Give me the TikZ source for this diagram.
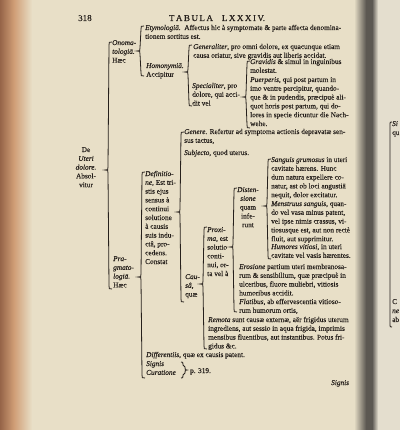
\documentclass[tikz,border=0pt]{standalone}
\usepackage{fontspec}
\setmainfont{Liberation Serif}[FakeBold=0.3]
\usetikzlibrary{calc}

\definecolor{paper}{RGB}{232,223,199}
\definecolor{nextpage}{RGB}{228,222,206}
\definecolor{ink}{RGB}{38,32,28}
\definecolor{edgedark}{RGB}{150,100,72}
\definecolor{edge}{RGB}{208,158,118}
\definecolor{gutter}{RGB}{92,88,82}

% curly bracket: top, tip, bottom (optional hook length, negative = closing)
\newcommand{\tabbrace}[4][3]{%
  \draw[brk] ($(#2)+(#1,0)$) .. controls (#2) .. ($(#2)+(0,3)$)
    -- ($(#3)+(#1,-3)$) .. controls ($(#3)+(#1,0)$) .. (#3)
    .. controls ($(#3)+(#1,0)$) .. ($(#3)+(#1,3)$)
    -- ($(#4)+(0,-3)$) .. controls (#4) .. ($(#4)+(#1,0)$);}

\begin{document}
\begin{tikzpicture}[x=1pt,y=-1pt,
    txt/.style={anchor=base west,inner sep=0pt,align=left,text=ink,
      font=\fontsize{7.3}{8.8}\selectfont},
    nl/.style={yshift={-(#1-1)*8.8pt}},
    hdr/.style={anchor=base west,inner sep=0pt,text=ink,
      font=\fontsize{9}{10}\selectfont},
    brk/.style={draw=ink,line width=0.8pt}]
  \useasboundingbox (0,0) rectangle (400,430);

  % Page
  \fill[paper] (0,0) rectangle (400,430);
  \shade[left color=edgedark,right color=edge] (0,0) rectangle (14,430);
  \shade[left color=edge,right color=paper] (14,0) rectangle (32,430);
  \shade[left color=paper,right color=gutter] (354,0) rectangle (366,430);
  \fill[gutter] (366,0) rectangle (372,430);
  \shade[left color=gutter,right color=nextpage] (372,0) rectangle (378,430);
  \fill[nextpage] (378,0) rectangle (400,430);

  % Header
  \node[hdr] (pg) at (78,21) {318};
  \node[hdr,anchor=base] (title) at (217,21) {T\,A\,B\,U\,L\,A\quad L\,X\,X\,X\,I\,V.};

  % Root
  \node[txt,nl=5,align=center,anchor=base] (root) at (86,152)
    {De\\ \textit{Uteri}\\ \textit{dolore.}\\ Absol-\\ vitur};
  \coordinate (b1t) at (109,42);
  \coordinate (b1m) at (105,170);
  \coordinate (b1b) at (109,289);
  \tabbrace{b1t}{b1m}{b1b}

  % Onomatologia
  \node[txt,nl=3] (onoma) at (112,45) {\textit{Onoma-}\\ \textit{tologiā.}\\ Hæc};
  \coordinate (b2t) at (141,26);
  \coordinate (b2m) at (137,51);
  \coordinate (b2b) at (141,76);
  \tabbrace{b2t}{b2m}{b2b}
  \node[txt,nl=2] (etym) at (145,30) {\textit{Etymologiā.}\ \ Affectus hic à symptomate \& parte affecta denomina-\\ tionem sortitus est.};
  \node[txt,nl=2] (homon) at (146,68) {\textit{Homonymiā.}\\ Accipitur};
  \coordinate (b3t) at (189,45);
  \coordinate (b3m) at (185,72);
  \coordinate (b3b) at (189,106);
  \tabbrace{b3t}{b3m}{b3b}
  \node[txt,nl=2] (gener) at (193,49) {\textit{Generaliter}, pro omni dolore, ex quacunque etiam\\ causa oriatur, sive gravidis aut liberis accidat.};
  \node[txt,nl=3] (spec) at (192,88) {\textit{Specialiter}, pro\\ dolore, qui acci-\\ dit vel};
  \coordinate (b4t) at (247,61);
  \coordinate (b4m) at (243,97);
  \coordinate (b4b) at (247,128);
  \tabbrace{b4t}{b4m}{b4b}
  \node[txt,nl=2] (grav) at (250,64) {\textit{Gravidis} \& simul in inguinibus\\ molestat.};
  \node[txt,nl=6] (puerp) at (250,82) {\textit{Puerperis}, qui post partum in\\ imo ventre percipitur, quando-\\ que \& in pudendis, præcipuè ali-\\ quot horis post partum, qui do-\\ lores in specie dicuntur die Nach-\\ wehe.};

  % Pragmatologia
  \node[txt,nl=4] (pragm) at (113,261) {\textit{Pra-}\\ \textit{gmato-}\\ \textit{logiā.}\\ Hæc};
  \coordinate (b5t) at (142,172);
  \coordinate (b5m) at (138,277);
  \coordinate (b5b) at (142,378);
  \tabbrace{b5t}{b5m}{b5b}
  \node[txt,nl=11] (defin) at (145,176) {\textit{Definitio-}\\ \textit{ne}, Est tri-\\ stis ejus\\ sensus à\\ continui\\ solutione\\ à causis\\ suis indu-\\ ctâ, pro-\\ cedens.\\ Constat};
  \coordinate (b6t) at (181,132);
  \coordinate (b6m) at (177,212);
  \coordinate (b6b) at (181,302);
  \tabbrace{b6t}{b6m}{b6b}
  \node[txt,nl=2] (gen) at (184,134) {\textit{Genere}. Refertur ad symptoma actionis depravatæ sen-\\ sus tactus,};
  \node[txt] (subj) at (184,155) {\textit{Subjecto}, quod uterus.};
  \node[txt,nl=3] (causa) at (185,279) {\textit{Cau-}\\ \textit{sâ},\\ quæ};
  \coordinate (b7t) at (204,227);
  \coordinate (b7m) at (200,284);
  \coordinate (b7b) at (204,349);
  \tabbrace{b7t}{b7m}{b7b}
  \node[txt,nl=6] (prox) at (207,232) {\textit{Proxi-}\\ \textit{ma}, est\\ solutio\\ conti-\\ nui, or-\\ ta vel à};
  \coordinate (b8t) at (234,188);
  \coordinate (b8m) at (230,247);
  \coordinate (b8b) at (234,312);
  \tabbrace{b8t}{b8m}{b8b}
  \node[txt,nl=5,align=center,anchor=base] (dist) at (248,192) {\textit{Disten-}\\ \textit{sione}\\ quam\\ infe-\\ runt};
  \coordinate (b9t) at (268,159);
  \coordinate (b9m) at (264,206);
  \coordinate (b9b) at (268,259);
  \tabbrace{b9t}{b9m}{b9b}
  \node[txt,nl=5] (sang) at (271,162) {\textit{Sanguis grumosus} in uteri\\ cavitate hærens. Hunc\\ dum natura expellere co-\\ natur, ast ob loci angustiā\\ nequit, dolor excitatur.};
  \node[txt,nl=5] (menst) at (271,206) {\textit{Menstruus sanguis}, quan-\\ do vel vasa minus patent,\\ vel ipse nimis crassus, vi-\\ tiosusque est, aut non rectè\\ fluit, aut supprimitur.};
  \node[txt,nl=2] (humor) at (271,249) {\textit{Humores vitiosi}, in uteri\\ cavitate vel vasis hærentes.};
  \node[txt,nl=4] (eros) at (239,269) {\textit{Erosione} partium uteri membranosa-\\ rum \& sensibilium, quæ præcipuè in\\ ulceribus, fluore muliebri, vitiosis\\ humoribus accidit.};
  \node[txt,nl=2] (flat) at (239,304) {\textit{Flatibus}, ab effervescentia vitioso-\\ rum humorum ortis,};
  \node[txt,nl=4] (remot) at (208,322) {\textit{Remota} sunt causæ externæ, aër frigidus uterum\\ ingrediens, aut sessio in aqua frigida, imprimis\\ mensibus fluentibus, aut instantibus. Potus fri-\\ gidus \&c.};
  \node[txt] (diff) at (146,357) {\textit{Differentiis}, quæ ex causis patent.};
  \node[txt,nl=2] (sign) at (146,366) {\textit{Signis}\\ \textit{Curatione}};
  \coordinate (bst) at (183,362);
  \coordinate (bsm) at (187,370);
  \coordinate (bsb) at (183,378);
  \tabbrace[-2]{bst}{bsm}{bsb}
  \node[txt] (pag) at (190,373) {p. 319.};
  \node[txt] (catch) at (331,385) {\textit{Signis}};

  % Next page
  \begin{scope}
    \clip (372,0) rectangle (400,430);
    \draw[brk] (392,122) .. controls (390,122) .. (390,124) -- (390,325)
      .. controls (390,327) .. (392,327);
    \node[txt] (np1) at (392,126) {\textit{Si}};
    \node[txt] (np2) at (392,135) {qu};
    \node[txt] (np3) at (392,304) {C};
    \node[txt] (np4) at (392,313) {\textit{ne}};
    \node[txt] (np5) at (392,322) {ab};
  \end{scope}
\end{tikzpicture}
\end{document}
